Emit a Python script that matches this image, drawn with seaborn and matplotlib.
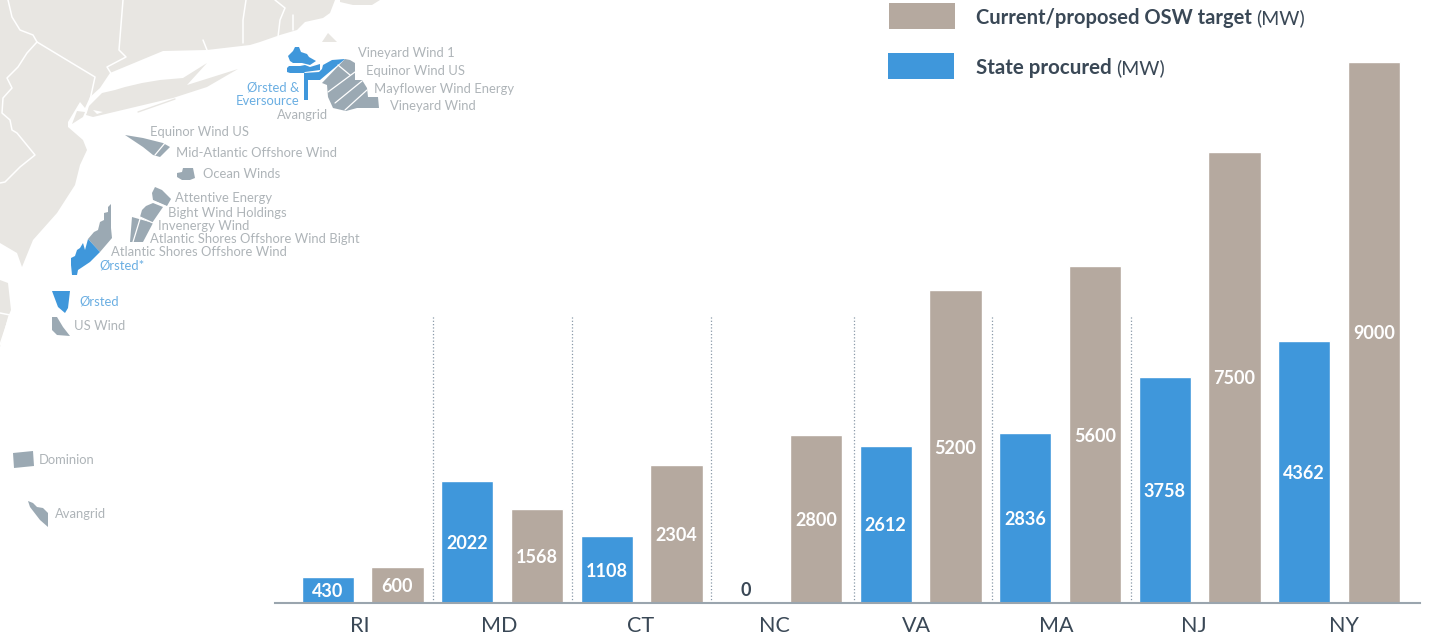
import pandas as pd
import seaborn as sns
import matplotlib.pyplot as plt
from matplotlib.patches import Polygon, Rectangle

W, H = 1430, 638
BLUE = '#3f97db'
TAN = '#b5a99f'
LAND = '#e8e6e2'
AREA = '#9ba9b3'
DARK = '#3a4856'
MAPTEXT = '#aeb4b8'

states = ['RI', 'MD', 'CT', 'NC', 'VA', 'MA', 'NJ', 'NY']
procured = [430, 2022, 1108, 0, 2612, 2836, 3758, 4362]
target = [600, 1568, 2304, 2800, 5200, 5600, 7500, 9000]

# map shapes, in pixels of the picture
mainland = [(0, 0), (335, 0), (330, 13), (323, 18), (305, 22), (297, 30), (280, 35), (260, 42), (250, 45), (207, 50),
            (163, 51), (110, 73), (100, 88), (90, 97), (85, 108), (80, 102), (68, 122), (68, 127), (83, 140), (87, 150),
            (80, 165), (75, 185), (57, 213), (33, 240), (22, 267), (17, 253), (0, 243)]
cape = [(340, 2), (353, 5), (372, 5), (380, 0), (340, 0)]
long_island = [(88, 107), (102, 93), (115, 90), (125, 87), (142, 83), (160, 80), (183, 78), (207, 63), (187, 85),
               (203, 80), (238, 69), (207, 87), (173, 98), (93, 117), (86, 115)]
staten = [(72, 124), (77, 111), (85, 112), (83, 117)]
delmarva = [(0, 280), (8, 283), (11, 310), (8, 317), (0, 347)]
island = [(322, 42), (328, 33), (337, 42)]
land_shapes = [mainland, cape, long_island, staten, delmarva, island]

borders = [[(8, 0), (12, 17), (20, 30), (33, 35), (37, 42), (95, 77), (90, 100), (86, 113)],
           [(37, 42), (27, 53), (18, 67), (7, 78), (12, 88), (3, 98), (2, 113), (10, 120), (12, 130), (17, 133),
            (35, 155), (20, 167), (5, 182), (0, 183)],
           [(123, 0), (119, 50), (126, 57), (107, 67), (112, 75)],
           [(246, 0), (243, 20), (243, 43)],
           [(203, 40), (207, 50)],
           [(275, 0), (285, 8), (280, 20), (278, 37)],
           [(293, 15), (293, 30)],
           [(0, 313), (10, 315)],
           [(10, 315), (0, 345)]]
barrier = [(138, 112), (175, 99)]
inner_bay = [(93, 110), (103, 112), (97, 114)]

gray_areas = [[(345, 59), (350, 60), (355, 63), (355, 80), (362, 80), (367, 88), (368, 97), (378, 97), (379, 108),
               (357, 108), (346, 111), (333, 108), (328, 97), (327, 85), (322, 83)],
              [(125, 135), (143, 138), (163, 143), (170, 147), (160, 157), (153, 155), (143, 147)],
              [(177, 173), (182, 172), (183, 168), (193, 168), (195, 178), (190, 180), (182, 180), (177, 177)],
              [(152, 193), (155, 187), (162, 190), (171, 199), (167, 206), (153, 200)],
              [(142, 210), (146, 206), (153, 203), (163, 207), (152, 223), (140, 217)],
              [(132, 217), (153, 223), (143, 242), (130, 242)],
              [(111, 204), (111, 228), (112, 238), (100, 252), (88, 239), (94, 232), (98, 230), (100, 222), (104, 220),
               (104, 213), (108, 212), (108, 207)],
              [(52, 317), (57, 317), (63, 327), (70, 336), (57, 335), (52, 330)],
              [(13, 453), (33, 451), (34, 466), (14, 468)],
              [(28, 501), (33, 503), (37, 507), (43, 508), (48, 513), (48, 527), (40, 520), (30, 507)]]

blue_areas = [[(288, 56), (293, 51), (295, 47), (299, 47), (301, 52), (307, 54), (309, 57), (316, 61), (310, 65),
               (302, 63), (293, 63), (290, 61)],
              [(287, 68), (289, 66), (300, 66), (305, 65), (310, 67), (320, 64), (320, 70), (305, 72), (304, 73),
               (290, 73), (287, 72)],
              [(304, 73), (304, 100), (308, 100), (308, 80), (320, 80), (345, 59), (332, 60), (323, 65), (322, 69),
               (319, 72)],
              [(88, 239), (100, 252), (90, 262), (78, 270), (77, 275), (72, 275), (71, 265), (71, 258), (75, 256),
               (77, 250), (80, 248), (83, 243), (85, 250)],
              [(52, 291), (70, 291), (68, 308), (65, 313), (58, 307)]]

area_cuts = [[(338, 65), (350, 75)], [(328, 92), (355, 72)], [(335, 103), (362, 81)], [(345, 110), (367, 90)],
             [(155, 155), (165, 143)], [(140, 219), (133, 242)], [(153, 201), (167, 207)], [(140, 217), (153, 223)]]

map_labels = [('Vineyard Wind 1', 358, 53), ('Equinor Wind US', 366, 71), ('Mayflower Wind Energy', 374, 89),
              ('Vineyard Wind', 390, 106), ('Equinor Wind US', 150, 132), ('Mid-Atlantic Offshore Wind', 176, 153),
              ('Ocean Winds', 203, 174), ('Attentive Energy', 175, 198), ('Bight Wind Holdings', 168, 213),
              ('Invenergy Wind', 158, 226), ('Atlantic Shores Offshore Wind Bight', 150, 239),
              ('Atlantic Shores Offshore Wind', 111, 252), ('US Wind', 74, 326), ('Dominion', 39, 460),
              ('Avangrid', 55, 514), ('Avangrid', 277, 115)]
blue_labels = [('Ørsted &', 247, 87), ('Eversource', 236, 101), ('Ørsted*', 99, 266), ('Ørsted', 79, 302)]

# layout of the chart in pixels
base_y = 603
axis_left, axis_right = 275, 1420
first_center, pitch = 362.6, 139.5
mw_per_px = 9000 / 541
tick_px = [360, 499, 641, 774, 916, 1056, 1194, 1344]
divider_px = [433, 572, 711, 854, 992, 1131]

sns.set_theme(style='white')
plt.rcParams['font.family'] = ['Lato', 'DejaVu Sans']

fig = plt.figure(figsize=(W / 100, H / 100), dpi=100)

bg = fig.add_axes([0, 0, 1, 1], zorder=0)
bg.set_xlim(0, W)
bg.set_ylim(H, 0)
bg.axis('off')

for shape in land_shapes:
    bg.add_patch(Polygon(shape, closed=True, fc=LAND, ec='none'))
bg.add_patch(Polygon(inner_bay, closed=True, fc='white', ec='none'))
bg.plot(*zip(*barrier), color=LAND, lw=1)
for line in borders:
    bg.plot(*zip(*line), color='white', lw=1.1)
for shape in gray_areas:
    bg.add_patch(Polygon(shape, closed=True, fc=AREA, ec='none'))
for shape in blue_areas:
    bg.add_patch(Polygon(shape, closed=True, fc=BLUE, ec='none'))
for line in area_cuts:
    bg.plot(*zip(*line), color='white', lw=0.9)

for label, x, y in map_labels:
    bg.text(x, y, label, color=MAPTEXT, fontsize=9.4, ha='left', va='center')
for label, x, y in blue_labels:
    bg.text(x, y, label, color='#6aaee2', fontsize=9.4, ha='left', va='center')

# legend
bg.add_patch(Rectangle((889, 3), 66, 26, fc=TAN, ec='none'))
bg.add_patch(Rectangle((888, 53), 66, 26, fc=BLUE, ec='none'))
bg.text(976, 18, 'Current/proposed OSW target', color=DARK, fontsize=14.5, fontweight='bold', ha='left', va='center')
bg.text(1256, 18, '(MW)', color=DARK, fontsize=14, ha='left', va='center')
bg.text(976, 68, 'State procured', color=DARK, fontsize=14.8, fontweight='bold', ha='left', va='center')
bg.text(1116, 68, '(MW)', color=DARK, fontsize=14, ha='left', va='center')

df = pd.DataFrame({
    'State': states * 2,
    'Series': ['State procured'] * len(states) + ['Target'] * len(states),
    'MW': procured + target,
})

ax = fig.add_axes([axis_left / W, (H - base_y) / H, (axis_right - axis_left) / W, base_y / H], zorder=1)
ax.patch.set_alpha(0)

sns.barplot(data=df, x='State', y='MW', hue='Series', order=states, hue_order=['State procured', 'Target'],
            palette=[BLUE, TAN], saturation=1, width=1, gap=0.25, legend=False, ax=ax)

ax.set_xlim((axis_left - first_center) / pitch, (axis_right - first_center) / pitch)
ax.set_ylim(0, base_y * mw_per_px)
ax.set_xlabel('')
ax.set_ylabel('')
ax.set_yticks([])

ax.set_xticks([(x - first_center) / pitch for x in tick_px], states)
ax.tick_params(axis='x', length=0, pad=9, labelsize=15.5, labelcolor=DARK)

sns.despine(ax=ax, left=True)
ax.spines['bottom'].set_color('#9aa5ae')
ax.spines['bottom'].set_linewidth(1.5)

ax.vlines([(x - first_center) / pitch for x in divider_px], 0, (base_y - 316) * mw_per_px,
          color='#8a99a8', lw=0.9, ls=':')

for bars, values in zip(ax.containers, [procured, target]):
    labels = [str(v) if v > 0 else '' for v in values]
    for ann in ax.bar_label(bars, labels=labels, label_type='center', color='white', fontsize=13, fontweight='bold'):
        ann.xyann = (0, -1)

ax.text(3 - 0.25, 13 * mw_per_px, '0', color=DARK, fontsize=13, fontweight='bold', ha='center', va='center')

fig.savefig('out.png', dpi=100)
